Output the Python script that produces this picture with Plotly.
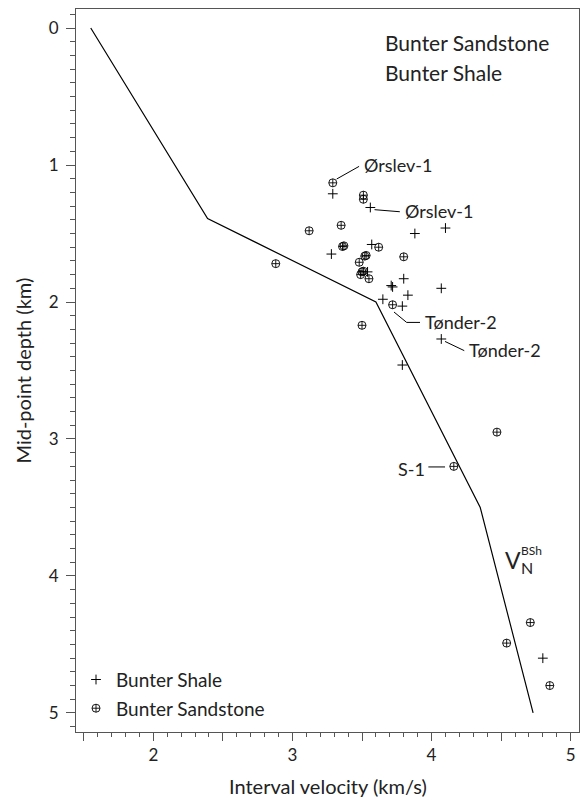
import plotly.graph_objects as go

# ---- data ----
line_v = [1.55, 2.39, 3.60, 4.35, 4.73]
line_d = [0.00, 1.39, 2.00, 3.50, 5.00]

shale_v = [3.29, 3.56, 3.88, 4.10, 3.28, 3.57, 3.54, 3.72, 3.71, 3.80, 3.83, 4.07,
           3.65, 3.79, 4.07, 3.79, 4.80]
shale_d = [1.21, 1.31, 1.50, 1.46, 1.65, 1.58, 1.78, 1.89, 1.88, 1.83, 1.95, 1.90,
           1.98, 2.03, 2.27, 2.46, 4.60]

sand_v = [3.29, 3.51, 3.51, 3.35, 3.12, 3.37, 3.36, 3.62, 3.53, 3.52, 3.48, 3.80,
          3.50, 3.51, 3.49, 3.55, 3.72, 3.50, 4.47, 4.16, 4.71, 4.54, 4.85, 2.88]
sand_d = [1.13, 1.22, 1.25, 1.44, 1.48, 1.59, 1.595, 1.60, 1.66, 1.665, 1.71, 1.67,
          1.78, 1.775, 1.80, 1.83, 2.02, 2.17, 2.95, 3.20, 4.34, 4.49, 4.80, 1.72]

x_tickvals = [1.5, 2, 2.5, 3, 3.5, 4, 4.5, 5]
x_ticktext = ["", "2", "", "3", "", "4", "", "5"]
y_tickvals = [0, 1, 2, 3, 4, 5]

FONT = "Lato"
TXT = "#222"
AX = "#555"

fig = go.Figure()
fig.add_trace(go.Scatter(x=line_v, y=line_d, mode="lines",
                         line=dict(color="black", width=1.2), showlegend=False))
fig.add_trace(go.Scatter(x=shale_v, y=shale_d, mode="markers", name="Bunter Shale",
                         legendgroup="a",
                         marker=dict(symbol="cross-thin-open", size=7, color="black",
                                     line=dict(color="black", width=1))))
fig.add_trace(go.Scatter(x=sand_v, y=sand_d, mode="markers", name="Bunter Sandstone",
                         legendgroup="b",
                         marker=dict(symbol="circle-cross-open", size=8, color="black",
                                     line=dict(color="black", width=0.9))))

# leader lines
leaders = [
    ([3.318, 3.479], [1.102, 1.010]),
    ([3.590, 3.772], [1.326, 1.341]),
    ([3.730, 3.821, 3.917], [2.073, 2.149, 2.149]),
    ([4.097, 4.235], [2.288, 2.355]),
    ([3.977, 4.097], [3.204, 3.204]),
]
for lx, ly in leaders:
    fig.add_trace(go.Scatter(x=lx, y=ly, mode="lines", showlegend=False,
                             line=dict(color="black", width=1)))

ann = []
def lab(text, x, y, size=18, xanchor="left"):
    ann.append(dict(text=text, x=x, y=y, xref="x", yref="y", showarrow=False,
                    xanchor=xanchor, yanchor="middle",
                    font=dict(family=FONT, size=size, color=TXT)))

lab("Ørslev-1", 3.498, 0.998)
lab("Ørslev-1", 3.797, 1.334)
lab("Tønder-2", 3.936, 2.146)
lab("Tønder-2", 4.253, 2.348)
lab("S-1", 3.965, 3.219, xanchor="right")
lab("Bunter Sandstone", 3.651, 0.107, size=21)
lab("Bunter Shale", 3.651, 0.326, size=21)
lab("V", 4.516, 3.881, size=23)
lab("BSh", 4.628, 3.812, size=12)
lab("N", 4.628, 3.935, size=16)

ann.append(dict(text="Interval velocity (km/s)", xref="paper", yref="paper",
                x=0.5, y=0, yanchor="middle", yshift=-54, showarrow=False,
                font=dict(family=FONT, size=20, color=TXT)))
ann.append(dict(text="Mid-point depth (km)", xref="paper", yref="paper",
                x=0, y=0.5, xanchor="center", xshift=-54, textangle=-90,
                showarrow=False, font=dict(family=FONT, size=20, color=TXT)))

fig.update_layout(
    width=587, height=800,
    margin=dict(l=76, r=8, t=9, b=68),
    paper_bgcolor="white", plot_bgcolor="white",
    font=dict(family=FONT, color=TXT),
    annotations=ann,
    showlegend=True,
    legend=dict(x=0.0, y=0.006, xanchor="left", yanchor="bottom",
                bgcolor="rgba(0,0,0,0)", font=dict(family=FONT, size=19, color=TXT),
                tracegroupgap=1, itemwidth=30),
    xaxis=dict(range=[1.444, 5.06], showgrid=False, zeroline=False,
               showline=True, linecolor=AX, linewidth=1, mirror=True,
               ticks="outside", ticklen=8, tickcolor=AX, tickwidth=1,
               tickvals=x_tickvals, ticktext=x_ticktext,
               tickfont=dict(family=FONT, size=17, color=TXT),
               minor=dict(dtick=0.1, tick0=0, ticks="outside", ticklen=4,
                          tickcolor=AX, tickwidth=1, showgrid=False)),
    yaxis=dict(range=[5.139, -0.139], showgrid=False, zeroline=False,
               showline=True, linecolor=AX, linewidth=1, mirror=True,
               ticks="outside", ticklen=9, tickcolor=AX, tickwidth=1,
               tickvals=y_tickvals, ticklabelstandoff=4,
               tickfont=dict(family=FONT, size=17, color=TXT),
               minor=dict(dtick=0.1, tick0=0, ticks="outside", ticklen=5,
                          tickcolor=AX, tickwidth=1, showgrid=False)),
)

fig.write_html("out.html")
